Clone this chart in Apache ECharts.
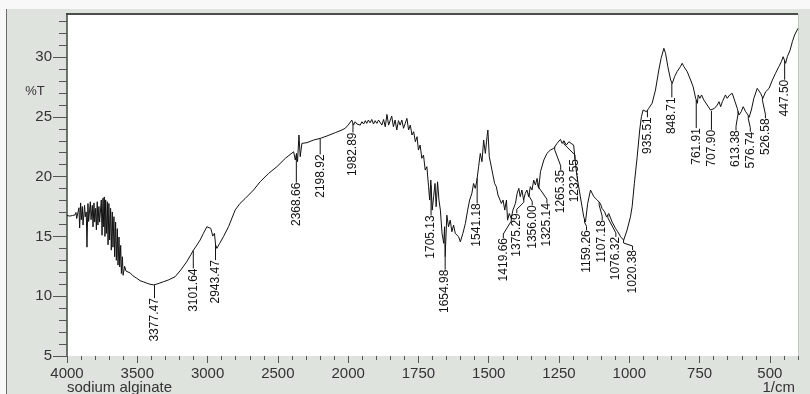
<!DOCTYPE html>
<html>
<head>
<meta charset="utf-8">
<script src="https://cdn.jsdelivr.net/npm/echarts@6/dist/echarts.min.js"></script>
<style>
  html, body { margin: 0; padding: 0; background: #fff; }
  #chart { width: 810px; height: 394px; }
</style>
</head>
<body>
<div id="chart"></div>
<script>
// FT-IR spectrum of sodium alginate, %T against wavenumber (1/cm)
const wavenumber = [
  4000, 3990, 3980, 3970, 3960, 3950, 3943, 3936, 3931, 3915, 3910, 3903, 3898, 3891, 3886,
  3875, 3870, 3863, 3858, 3851, 3846, 3834, 3829, 3820, 3815, 3808, 3803, 3796, 3791, 3785,
  3780, 3773, 3768, 3756, 3751, 3744, 3739, 3735, 3730, 3725, 3720, 3713, 3708, 3702, 3697,
  3690, 3685, 3678, 3673, 3666, 3661, 3654, 3649, 3642, 3637, 3630, 3625, 3618, 3613, 3606,
  3601, 3590, 3580, 3570, 3551, 3530, 3504, 3480, 3456, 3430, 3409, 3385, 3377, 3365, 3340,
  3314, 3280, 3231, 3190, 3148, 3120, 3100, 3080, 3053, 3030, 3005, 2994, 2977, 2963, 2951,
  2943, 2934, 2915, 2887, 2851, 2804, 2770, 2732, 2673, 2626, 2566, 2507, 2447, 2388, 2376,
  2367, 2360, 2350, 2341, 2329, 2293, 2246, 2198, 2151, 2091, 2044, 2020, 2000, 1993, 1987,
  1981, 1975, 1969, 1963, 1957, 1951, 1945, 1939, 1934, 1928, 1922, 1916, 1910, 1904, 1898,
  1892, 1886, 1880, 1874, 1868, 1862, 1856, 1850, 1845, 1839, 1833, 1827, 1821, 1815, 1809,
  1803, 1797, 1791, 1785, 1779, 1773, 1767, 1761, 1755, 1750, 1744, 1738, 1732, 1726, 1720,
  1714, 1710, 1706, 1701, 1696, 1691, 1687, 1682, 1677, 1672, 1666, 1660, 1657, 1655, 1649,
  1643, 1637, 1631, 1625, 1619, 1613, 1607, 1601, 1592, 1583, 1575, 1568, 1560, 1554, 1548,
  1542, 1536, 1530, 1524, 1518, 1512, 1506, 1503, 1498, 1492, 1485, 1479, 1473, 1467, 1461,
  1455, 1449, 1443, 1437, 1433, 1427, 1420, 1414, 1405, 1399, 1393, 1388, 1382, 1376, 1370,
  1364, 1358, 1352, 1346, 1340, 1334, 1328, 1322, 1316, 1304, 1293, 1281, 1269, 1257, 1251,
  1245, 1239, 1233, 1224, 1215, 1207, 1198, 1192, 1186, 1174, 1162, 1156, 1148, 1138, 1126,
  1114, 1103, 1097, 1088, 1081, 1073, 1067, 1061, 1049, 1041, 1031, 1020, 1008, 996, 990,
  982, 972, 963, 957, 951, 945, 939, 931, 919, 907, 895, 887, 877, 871, 863,
  853, 847, 839, 830, 824, 818, 812, 806, 794, 782, 773, 764, 758, 755, 749,
  743, 735, 723, 711, 705, 697, 687, 681, 675, 669, 664, 658, 652, 643, 634,
  626, 616, 610, 602, 595, 586, 578, 574, 566, 557, 545, 539, 533, 525, 515,
  503, 491, 480, 468, 459, 453, 444, 438, 428, 420, 412, 400
];
const transmittance = [
  16.75, 16.8, 16.7, 16.85, 16.75, 16.9, 16.8, 17.0, 16.5, 17.4, 15.7, 17.8, 16.4, 17.5, 15.95,
  17.6, 16.65, 17.05, 14.1, 17.75, 16.25, 17.9, 16.4, 17.6, 15.8, 17.8, 16.2, 17.35, 15.55, 17.9,
  15.95, 17.5, 16.2, 18.05, 15.1, 18.2, 15.8, 18.3, 15.0, 18.05, 15.25, 17.9, 14.3, 17.75, 14.7,
  17.35, 13.85, 17.05, 14.1, 16.65, 13.3, 16.2, 13.0, 15.65, 12.6, 14.95, 12.45, 14.25, 11.9, 13.3,
  11.75, 12.5, 12.1, 12.2, 11.95, 11.7, 11.5, 11.3, 11.2, 11.08, 11.0, 10.95, 10.92, 11.0, 11.1,
  11.21, 11.35, 11.63, 12.2, 12.89, 13.45, 13.86, 14.2, 14.7, 15.25, 15.81, 15.95, 15.67, 15.03, 15.26,
  14.3, 14.0, 14.4, 14.98, 15.81, 17.2, 17.75, 18.18, 18.88, 19.57, 20.27, 20.83, 21.53, 22.08, 21.39,
  21.94, 21.25, 23.48, 21.67, 22.78, 22.84, 23.06, 23.2, 23.4, 23.68, 23.9, 24.05, 24.31, 24.45, 24.73,
  24.31, 24.59, 24.4, 24.5, 24.31, 24.59, 24.4, 24.68, 24.45, 24.73, 24.5, 24.78, 24.4, 24.68, 24.45,
  24.73, 24.87, 24.31, 24.78, 24.17, 25.2, 24.31, 24.73, 25.06, 24.17, 24.73, 23.9, 24.68, 24.31, 24.73,
  24.04, 24.45, 24.87, 23.9, 24.31, 23.48, 23.76, 22.92, 23.34, 22.22, 22.64, 21.53, 21.8, 20.55, 20.83,
  19.16, 18.04, 19.71, 17.2, 18.32, 19.43, 17.48, 19.57, 18.04, 17.2, 15.25, 14.42, 15.81, 13.3, 16.78,
  15.81, 16.36, 15.39, 15.95, 15.25, 15.39, 14.97, 14.55, 15.25, 16.09, 17.2, 18.04, 18.6, 19.43, 19.02,
  19.71, 20.83, 21.94, 21.25, 23.06, 21.94, 23.34, 23.9, 21.66, 20.97, 20.13, 19.43, 19.16, 18.46, 18.6,
  17.76, 18.04, 17.2, 18.04, 16.36, 16.92, 16.5, 17.2, 17.76, 18.6, 19.02, 18.32, 18.88, 18.04, 18.6,
  18.88, 18.32, 19.16, 18.88, 19.71, 19.3, 19.85, 19.02, 20.41, 21.39, 21.94, 22.22, 22.36, 22.78, 22.64,
  23.12, 22.78, 23.0, 22.64, 22.92, 22.78, 22.64, 21.25, 20.0, 18.3, 16.63, 16.2, 17.76, 18.88, 18.32,
  18.04, 17.76, 17.34, 17.07, 16.63, 16.92, 17.07, 16.2, 15.67, 15.39, 14.97, 14.69, 15.53, 16.63, 17.48,
  19.43, 21.66, 23.9, 25.01, 25.57, 25.71, 25.43, 25.71, 26.13, 27.24, 28.92, 29.89, 30.73, 30.31, 29.2,
  28.08, 27.8, 28.36, 28.78, 28.64, 29.2, 29.48, 29.2, 28.78, 28.08, 27.52, 26.55, 26.13, 26.83, 26.55,
  26.83, 26.41, 25.99, 25.57, 25.43, 25.71, 25.99, 26.27, 25.85, 26.27, 26.13, 26.83, 26.55, 26.83, 26.97,
  26.41, 25.71, 25.15, 25.43, 25.85, 25.43, 25.15, 24.96, 25.57, 26.55, 27.38, 27.24, 26.97, 26.55, 27.1,
  27.38, 28.08, 28.64, 29.2, 29.62, 30.03, 29.48, 30.03, 30.59, 31.29, 31.85, 32.4
];

// Peak-picked wavenumbers printed under the trace
const peakWavenumber = [
  3377.47, 3101.64, 2943.47, 2368.66, 2198.92, 1982.89, 1705.13, 1654.98, 1541.18,
  1419.66, 1375.29, 1356.00, 1325.14, 1265.35, 1232.55, 1159.26, 1107.18, 1076.32,
  1020.38, 935.51, 848.71, 761.91, 707.90, 613.38, 576.74, 526.58, 447.50
];

// Major tick labels of the wavenumber axis
const tickLabels = [4000, 3500, 3000, 2500, 2000, 1750, 1500, 1250, 1000, 750, 500];
const yTickLabels = [5, 10, 15, 20, 25, 30];

// Peak label leader layout in pixels: [horizontal shift, drop below the trace]
const peakLabelLayout = [
  [0, 13], [0, 18], [0, 16], [0, 28], [0, 16], [0, 9], [0, 30], [0, 13], [0, 25],
  [-8, 20], [-7, 14], [3, 12], [9, 20], [6, 23], [11, 18], [2, 11], [3, 18], [8, 22],
  [9, 10], [0, 7], [0, 15], [0, 28], [0, 19], [-2, 19], [2, 16], [3, 21], [0, 19]
];

// The instrument scale halves above 2000 1/cm: 500 per division up there, 250 below
function toAxis(w) {
  return w >= 2000 ? (4000 - w) / 500 : 4 + (2000 - w) / 250;
}
function fromAxis(t) {
  return t <= 4 ? 4000 - t * 500 : 2000 - (t - 4) * 250;
}
function transmittanceAt(w) {
  for (let i = 0; i < wavenumber.length - 1; i++) {
    const a = wavenumber[i], b = wavenumber[i + 1];
    if (w <= a && w >= b) {
      const f = (a - w) / (a - b);
      return transmittance[i] + f * (transmittance[i + 1] - transmittance[i]);
    }
  }
  return transmittance[transmittance.length - 1];
}

const minorTicks = [];
for (let w = 3900; w > 2000; w -= 100) minorTicks.push(toAxis(w));
for (let w = 1950; w >= 400; w -= 50) if (w % 250 !== 0) minorTicks.push(toAxis(w));
const yMinor = [];
for (let v = 6; v <= 33; v++) if (v % 5 !== 0) yMinor.push(v);

const font = '"Liberation Sans", Arial, sans-serif';
const spectrum = wavenumber.map((w, i) => [toAxis(w), transmittance[i]]);
const peaks = peakWavenumber.map(w => [toAxis(w), transmittanceAt(w)]);

const chart = echarts.init(document.getElementById('chart'), null, { renderer: 'canvas' });
chart.setOption({
  animation: false,
  backgroundColor: '#dee3de',
  grid: {
    left: 67, right: 12, top: 14, bottom: 38,
    show: true, backgroundColor: '#ffffff', borderWidth: 0
  },
  xAxis: [
    {
      type: 'value', min: 0, max: toAxis(400), position: 'bottom',
      axisLine: { show: false },
      splitLine: { show: false },
      axisTick: { customValues: tickLabels.map(toAxis), length: 7, lineStyle: { color: '#555' } },
      axisLabel: {
        customValues: tickLabels.map(toAxis),
        formatter: v => String(Math.round(fromAxis(v))),
        fontSize: 15, color: '#333', margin: 10, fontFamily: font
      }
    },
    {
      type: 'value', min: 0, max: toAxis(400), position: 'bottom',
      axisLine: { show: false },
      splitLine: { show: false },
      axisTick: { customValues: minorTicks, length: 4, lineStyle: { color: '#555' } },
      axisLabel: { show: false }
    }
  ],
  yAxis: [
    {
      type: 'value', min: 5, max: 33.6, position: 'left',
      axisLine: { show: true, lineStyle: { color: '#444', width: 1.5 } },
      splitLine: { show: false },
      axisTick: { customValues: yTickLabels, length: 14, lineStyle: { color: '#555' } },
      axisLabel: { customValues: yTickLabels, fontSize: 15, color: '#333', margin: 15, fontFamily: font }
    },
    {
      type: 'value', min: 5, max: 33.6, position: 'left',
      axisLine: { show: false },
      splitLine: { show: false },
      axisTick: { customValues: yMinor, length: 8, lineStyle: { color: '#555' } },
      axisLabel: { show: false }
    }
  ],
  graphic: [
    { type: 'rect', shape: { x: 0, y: 0, width: 810, height: 9 }, style: { fill: '#f7f8f7' }, silent: true },
    { type: 'rect', shape: { x: 0, y: 0, width: 6, height: 394 }, style: { fill: '#f7f8f7' }, silent: true },
    { type: 'line', shape: { x1: 6.5, y1: 9, x2: 6.5, y2: 394 }, style: { stroke: '#6b6b6b', lineWidth: 1 }, silent: true },
    { type: 'line', shape: { x1: 66, y1: 14, x2: 798, y2: 14 }, style: { stroke: '#4c4c4c', lineWidth: 2 }, silent: true },
    { type: 'line', shape: { x1: 798.5, y1: 14, x2: 798.5, y2: 356 }, style: { stroke: '#c4c8c4', lineWidth: 1 }, silent: true },
    { type: 'text', x: 35, y: 91, style: { text: '%T', font: '13px ' + font, fill: '#333', align: 'center', verticalAlign: 'middle' } },
    { type: 'text', x: 67, y: 380, style: { text: 'sodium alginate', font: '15px ' + font, fill: '#333', align: 'left', verticalAlign: 'top' } },
    { type: 'text', x: 795, y: 380, style: { text: '1/cm', font: '15px ' + font, fill: '#333', align: 'right', verticalAlign: 'top' } }
  ],
  series: [
    {
      type: 'line',
      data: spectrum,
      showSymbol: false,
      lineStyle: { color: '#111', width: 1 },
      silent: true,
      z: 3
    },
    {
      type: 'custom',
      data: peaks,
      silent: true,
      z: 4,
      renderItem: function (params, api) {
        const i = params.dataIndex;
        const p = api.coord([api.value(0), api.value(1)]);
        const dx = peakLabelLayout[i][0];
        const top = p[1] + peakLabelLayout[i][1];
        const tx = p[0] + dx;
        const pts = dx === 0
          ? [[p[0], p[1]], [tx, top]]
          : [[p[0], p[1]], [p[0], p[1] + 3], [tx, top - 4], [tx, top]];
        return {
          type: 'group',
          children: [
            { type: 'polyline', shape: { points: pts }, style: { stroke: '#111', lineWidth: 1, fill: null } },
            {
              type: 'text', x: tx, y: top, rotation: Math.PI / 2,
              style: {
                text: peakWavenumber[i].toFixed(2), x: 0, y: 0,
                align: 'right', verticalAlign: 'middle',
                font: '12px ' + font, fill: '#111'
              }
            }
          ]
        };
      }
    }
  ]
});
</script>
</body>
</html>
